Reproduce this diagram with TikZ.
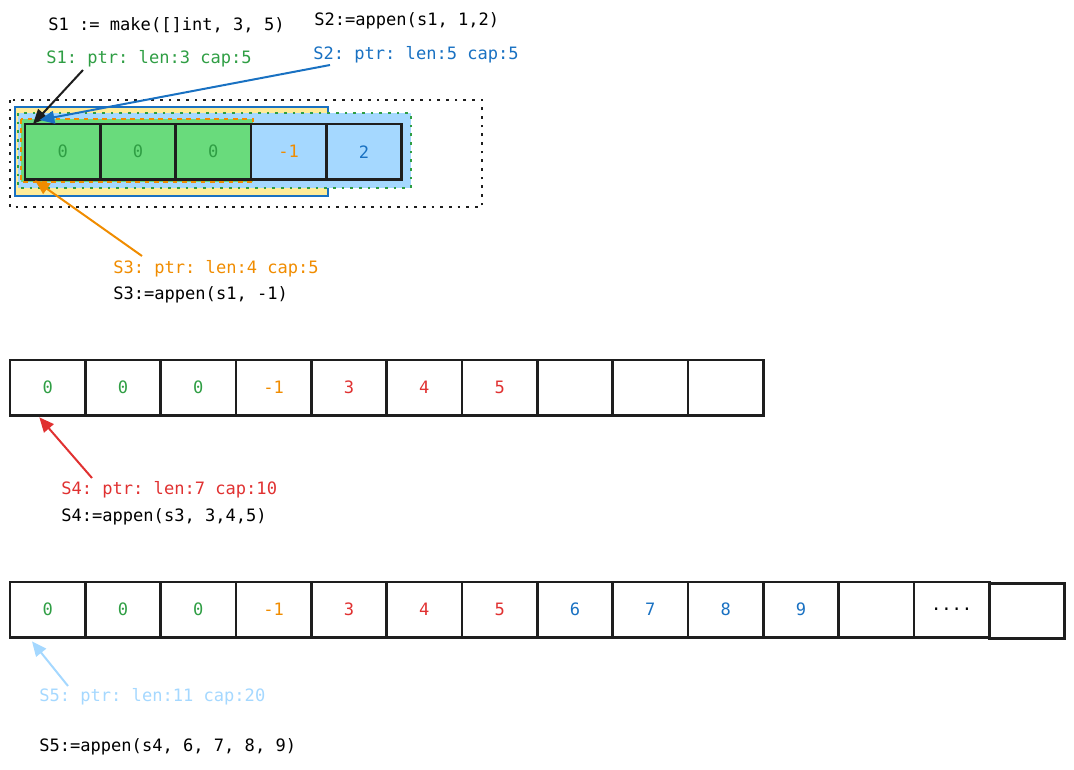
\documentclass[tikz,border=0pt]{standalone}
\usepackage{fontspec}
\setmainfont{DejaVu Sans Mono}
\usepackage{xcolor}
\usetikzlibrary{positioning,arrows.meta}
\definecolor{exblack}{HTML}{1E1E1E}
\definecolor{exgreen}{HTML}{2F9E44}
\definecolor{exgreenfill}{HTML}{69DB7C}
\definecolor{exblue}{HTML}{1971C2}
\definecolor{exbluefill}{HTML}{A5D8FF}
\definecolor{exyellow}{HTML}{FFEC99}
\definecolor{exorange}{HTML}{F08C00}
\definecolor{exred}{HTML}{E03131}
\frenchspacing

\begin{document}
\begin{tikzpicture}[x=0.75pt, y=-0.75pt, node distance=0cm,
    font=\fontsize{12.8}{15}\selectfont,
    cell/.style={draw=exblack, line width=1.8pt, minimum width=56.5pt, minimum height=41.5pt, inner sep=0pt, outer sep=0pt},
    lbl/.style={anchor=west, inner sep=0pt},
    ptr/.style={-{Triangle[length=11pt,width=9.5pt]}, line width=1.5pt}]
    \useasboundingbox (0,0) rectangle (1074,769);

    % backing array of s1 / s2 / s3
    \draw [exblack, line width=2pt, dash pattern=on 2pt off 4.5pt] (10,100) rectangle (482,207);
    \draw [exblue, line width=1.5pt, fill=exyellow] (15,107) rectangle (328,196);
    \draw [exgreen, line width=2pt, dash pattern=on 2pt off 4.5pt, fill=exbluefill] (18,113) rectangle (411,188);
    \draw [exorange, line width=2pt, dash pattern=on 3.5pt off 3.5pt, fill=exgreenfill] (21,119) rectangle (253,182);

    \node [cell, fill=exgreenfill, text=exgreen, anchor=north west] (a1) at (25,124) {0};
    \node [cell, fill=exgreenfill, text=exgreen, right=of a1] (a2) {0};
    \node [cell, fill=exgreenfill, text=exgreen, right=of a2] (a3) {0};
    \node [cell, fill=exbluefill, text=exorange, right=of a3] (a4) {-1};
    \node [cell, fill=exbluefill, text=exblue, right=of a4] (a5) {2};

    \node [lbl] (make1) at (48,25) {S1 := make([]int, 3, 5)};
    \node [lbl] (app2) at (314,21) {S2:=appen(s1, 1,2)};
    \node [lbl, text=exgreen] (s1) at (46,59) {S1: ptr: len:3 cap:5};
    \node [lbl, text=exblue] (s2) at (313,55) {S2: ptr: len:5 cap:5};
    \node [lbl, text=exorange] (s3) at (113,269) {S3: ptr: len:4 cap:5};
    \node [lbl] (app3) at (113,295) {S3:=appen(s1, -1)};

    \coordinate (s1from) at (83,70);
    \coordinate (s2from) at (330,65);
    \coordinate (s3from) at (142,256);
    \draw [ptr, exblack] (s1from) -- ([xshift=6pt]a1.north west);
    \draw [ptr, exblue] (s2from) -- ([xshift=11pt, yshift=3pt]a1.north west);
    \draw [ptr, exorange] (s3from) -- ([xshift=7.5pt, yshift=-0.75pt]a1.south west);

    % s4
    \node [cell, text=exgreen, anchor=north west] (b1) at (10,360) {0};
    \node [cell, text=exgreen, right=of b1] (b2) {0};
    \node [cell, text=exgreen, right=of b2] (b3) {0};
    \node [cell, text=exorange, right=of b3] (b4) {-1};
    \node [cell, text=exred, right=of b4] (b5) {3};
    \node [cell, text=exred, right=of b5] (b6) {4};
    \node [cell, text=exred, right=of b6] (b7) {5};
    \node [cell, right=of b7] (b8) {};
    \node [cell, right=of b8] (b9) {};
    \node [cell, right=of b9] (b10) {};

    \node [lbl, text=exred] (s4) at (61,490) {S4: ptr: len:7 cap:10};
    \node [lbl] (app4) at (61,517) {S4:=appen(s3, 3,4,5)};
    \coordinate (s4from) at (92,478);
    \draw [ptr, exred] (s4from) -- ([xshift=22pt, yshift=-1.5pt]b1.south west);

    % s5
    \node [cell, text=exgreen, anchor=north west] (c1) at (10,582) {0};
    \node [cell, text=exgreen, right=of c1] (c2) {0};
    \node [cell, text=exgreen, right=of c2] (c3) {0};
    \node [cell, text=exorange, right=of c3] (c4) {-1};
    \node [cell, text=exred, right=of c4] (c5) {3};
    \node [cell, text=exred, right=of c5] (c6) {4};
    \node [cell, text=exred, right=of c6] (c7) {5};
    \node [cell, text=exblue, right=of c7] (c8) {6};
    \node [cell, text=exblue, right=of c8] (c9) {7};
    \node [cell, text=exblue, right=of c9] (c10) {8};
    \node [cell, text=exblue, right=of c10] (c11) {9};
    \node [cell, right=of c11] (c12) {};
    \node [cell, right=of c12] (c13) {....};
    \node [cell, right=of c13, yshift=-1pt] (c14) {};

    \node [lbl, text=exbluefill] (s5) at (39,697) {S5: ptr: len:11 cap:20};
    \node [lbl] (app5) at (39,747) {S5:=appen(s4, 6, 7, 8, 9)};
    \coordinate (s5from) at (68,686);
    \draw [ptr, exbluefill] (s5from) -- ([xshift=16.5pt, yshift=-3pt]c1.south west);

\end{tikzpicture}
\end{document}
